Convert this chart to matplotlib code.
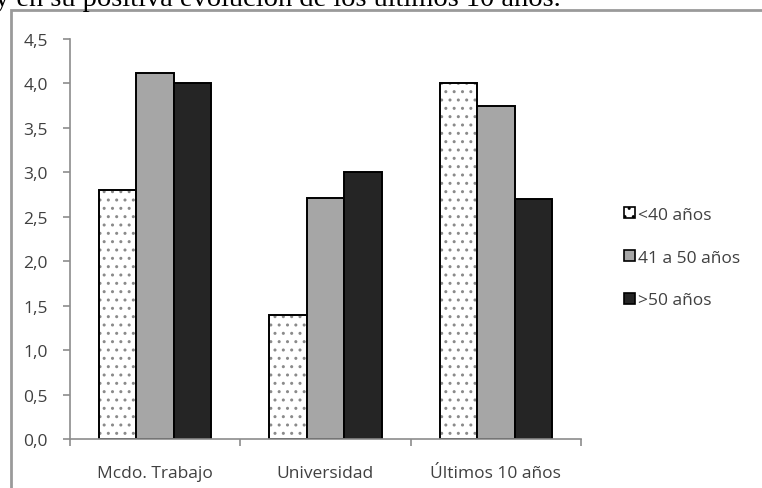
import matplotlib.pyplot as plt
import matplotlib.patches as mpatches
import numpy as np

# Valoración media por grupo de edad
CATEGORIES = ["Mcdo. Trabajo", "Universidad", "Últimos 10 años"]
GROUPS = ["<40 años", "41 a 50 años", ">50 años"]
MENOS_40 = [2.8, 1.4, 4.0]
DE_41_A_50 = [4.12, 2.71, 3.75]
MAS_50 = [4.0, 3.0, 2.7]

YTICKS = [0.0, 0.5, 1.0, 1.5, 2.0, 2.5, 3.0, 3.5, 4.0, 4.5]

W, H = 762, 489
TEXT_GRAY = "#404040"
AXIS_GRAY = "#8c8c8c"
FONT = "Open Sans"

fig = plt.figure(figsize=(W / 100, H / 100), dpi=100)
fig.patch.set_facecolor("white")

# trozo del párrafo que queda encima del gráfico
fig.text(-5 / W, 1 - 6 / H, "y en su positiva evolución de los últimos 10 años.",
         family="Liberation Serif", fontsize=20.5, color="black", va="baseline", ha="left")

# marco del gráfico (se sale por la derecha y por abajo)
frame = mpatches.Rectangle((11 / W, -0.1), 1.2, 1 - 11 / H + 0.1, transform=fig.transFigure,
                           fill=False, edgecolor="#9a9a9a", linewidth=2.0)
fig.patches.append(frame)

ax = fig.add_axes([70 / W, 1 - 440 / H, (581 - 70) / W, (440 - 40) / H])

x = np.arange(len(CATEGORIES))
bw = 0.22
series = [MENOS_40, DE_41_A_50, MAS_50]
fills = ["white", "#a6a6a6", "#252525"]

for i, (vals, fc) in enumerate(zip(series, fills)):
    pos = x + (i - 1) * bw
    if i == 0:
        # puntos grises de la trama, borde negro aparte
        ax.bar(pos, vals, bw, color="white", edgecolor="#8a8a8a", hatch="..", linewidth=0)
        ax.bar(pos, vals, bw, fill=False, edgecolor="black", linewidth=1.4)
    else:
        ax.bar(pos, vals, bw, color=fc, edgecolor="black", linewidth=1.4)

ax.set_xlim(-0.5, 2.5)
ax.set_ylim(0, 4.5)
ax.set_yticks(YTICKS)
ax.set_yticklabels([f"{v:.1f}".replace(".", ",") for v in YTICKS])
ax.set_xticks(x)
ax.set_xticklabels(CATEGORIES)
ax.set_xticks([-0.5, 0.5, 1.5, 2.5], minor=True)

for s in ["top", "right"]:
    ax.spines[s].set_visible(False)
for s in ["left", "bottom"]:
    ax.spines[s].set_color(AXIS_GRAY)
    ax.spines[s].set_linewidth(1.2)

ax.tick_params(axis="y", length=5, width=1.2, color=AXIS_GRAY, labelcolor=TEXT_GRAY,
               labelsize=12.5, pad=11)
ax.tick_params(axis="x", which="major", length=0, labelcolor=TEXT_GRAY, labelsize=12.5, pad=19)
ax.tick_params(axis="x", which="minor", length=5, width=1.2, color=AXIS_GRAY)
for lab in ax.get_xticklabels() + ax.get_yticklabels():
    lab.set_family(FONT)

handles = [
    mpatches.Patch(facecolor="white", edgecolor="black", hatch="..", linewidth=1.2),
    mpatches.Patch(facecolor="#a6a6a6", edgecolor="black", linewidth=1.2),
    mpatches.Patch(facecolor="#252525", edgecolor="black", linewidth=1.2),
]
leg = fig.legend(handles, GROUPS, loc="upper left", bbox_to_anchor=(608 / W, 1 - 192 / H),
                 frameon=False, handlelength=0.65, handleheight=0.65, handletextpad=0.15,
                 labelspacing=1.55, prop={"family": FONT, "size": 12.5})
for t in leg.get_texts():
    t.set_color(TEXT_GRAY)

fig.savefig("out.png", dpi=100)
